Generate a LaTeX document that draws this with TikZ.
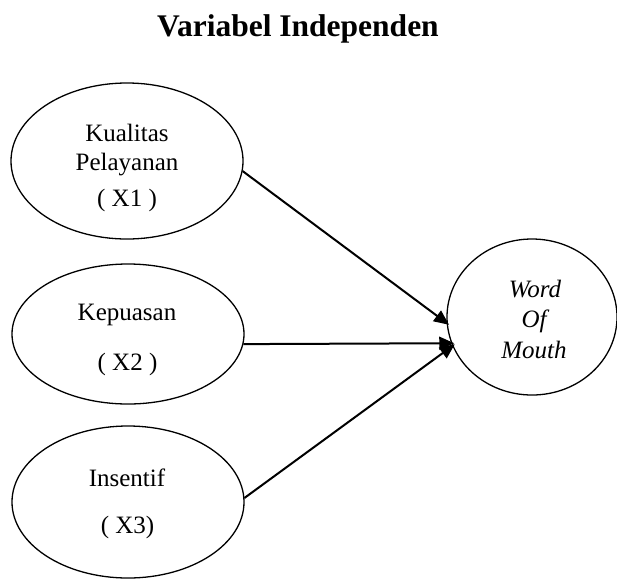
\documentclass[tikz,border=0pt]{standalone}
\usepackage{fontspec}
\setmainfont{Liberation Serif}
\usetikzlibrary{arrows.meta,shapes.geometric}
\begin{document}
\begin{tikzpicture}[x=1pt,y=-1pt,
  oval/.style={draw,ellipse,line width=1.3pt,inner sep=0pt},
  lbl/.style={anchor=base,inner sep=0pt,font=\fontsize{25}{30}\selectfont},
  ilbl/.style={lbl,font=\fontsize{25}{30}\selectfont\itshape},
  conn/.style={line width=2pt,-{Triangle[length=15pt,width=13pt]},shorten >=-3pt}]
\useasboundingbox (0,0) rectangle (617,579);
\node[anchor=base,inner sep=0pt,font=\fontsize{31.5}{36}\selectfont\bfseries] (title) at (298,36) {Variabel Independen};
\node[oval,minimum width=232pt,minimum height=156pt] (e1) at (127,161) {};
\node[oval,minimum width=232pt,minimum height=140pt] (e2) at (128,334) {};
\node[oval,minimum width=232pt,minimum height=152pt] (e3) at (128,502) {};
\node[oval,minimum width=170pt,minimum height=156pt] (wm) at (532,317) {};
\node[lbl] (k1) at (127,141.5) {Kualitas};
\node[lbl] (k2) at (127,170.5) {Pelayanan};
\node[lbl] (k3) at (127,206) {( X1 )};
\node[lbl] (p1) at (127,320) {Kepuasan};
\node[lbl] (p2) at (127.5,370) {( X2 )};
\node[lbl] (i1) at (127,486) {Insentif};
\node[lbl] (i2) at (127.5,533) {( X3)};
\node[ilbl] (w1) at (535,297) {Word};
\node[ilbl] (w2) at (534,327) {Of};
\node[ilbl] (w3) at (534,358) {Mouth};
\draw[conn] (e1.-5.4) -- (wm.184.5);
\draw[conn] (e2.-5.4) -- (wm.198.5);
\draw[conn] (e3.2.5) -- (wm.200.8);
\end{tikzpicture}
\end{document}
